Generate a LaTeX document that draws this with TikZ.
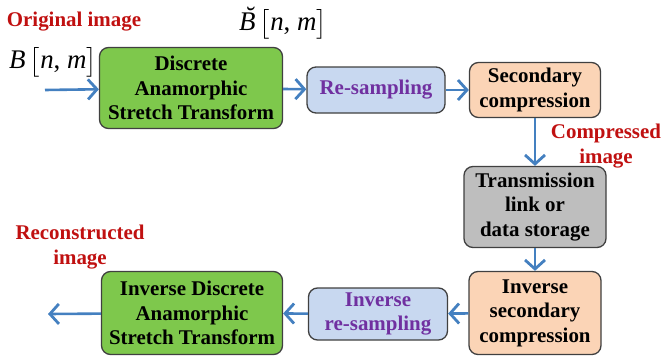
\documentclass[tikz,border=0pt]{standalone}
\usepackage{fontspec}
\setmainfont{Liberation Serif}
\usepackage{amsmath}
\usetikzlibrary{arrows.meta, positioning}
\definecolor{boxgreen}{RGB}{126,200,76}
\definecolor{boxblue}{RGB}{200,216,240}
\definecolor{boxorange}{RGB}{251,212,182}
\definecolor{boxgray}{RGB}{190,190,190}
\definecolor{flowblue}{RGB}{68,128,192}
\definecolor{labelred}{RGB}{192,16,16}
\definecolor{textpurple}{RGB}{112,48,160}

\begin{document}
\begin{tikzpicture}[x=1bp, y=1bp,
  block/.style={shape=rectangle, rounded corners=9bp, draw=black!75, line width=1.3bp, align=center, inner sep=1bp, font=\fontsize{21}{24.5}\selectfont\bfseries},
  flow/.style={draw=flowblue, line width=2.6bp, -{Straight Barb[length=9bp, width=20bp, line width=2.8bp]}},
  redlabel/.style={text=labelred, align=center, inner sep=1bp, font=\fontsize{21}{24.5}\selectfont\bfseries},
  signal/.style={inner sep=0bp, font=\fontsize{27}{28}\selectfont}]
\useasboundingbox (0,0) rectangle (669,361);
% forward chain
\node[block, fill=boxgreen, minimum width=183bp, minimum height=81bp] (dast) at (191,273) {Discrete\\Anamorphic\\Stretch Transform};
\node[block, fill=boxblue, minimum width=138bp, minimum height=46bp, text=textpurple] (resamp) at (376,271) {Re-sampling};
\node[block, fill=boxorange, minimum width=131bp, minimum height=55bp] (sec) at (535,271) {Secondary\\compression};
\node[block, fill=boxgray, minimum width=142bp, minimum height=81bp] (trans) at (535,154) {Transmission\\link or\\data storage};
% inverse chain
\node[block, fill=boxorange, minimum width=132bp, minimum height=83bp] (invsec) at (535,48) {Inverse\\secondary\\compression};
\node[block, fill=boxblue, minimum width=139bp, minimum height=52bp, text=textpurple] (invres) at (378,47) {Inverse\\re-sampling};
\node[block, fill=boxgreen, minimum width=181bp, minimum height=83bp] (invdast) at (192,48) {Inverse Discrete\\Anamorphic\\Stretch Transform};
% labels
\node[redlabel] (orig) at (74,339) {Original image};
\node[signal] (bin) at (53,299) {\textit{B}\,$\bigl[$\textit{n}, \textit{m}$\bigr]$};
\node[signal] (bout) at (283,338) {\textit{\accent"02D8 B}\,$\bigl[$\textit{n}, \textit{m}$\bigr]$};
\node[redlabel] (comp) at (606,215) {Compressed\\image};
\node[redlabel] (recon) at (80,114) {Reconstructed\\image};
\coordinate (in) at (45,271);
\coordinate (out) at (48,47);
% arrows
\draw[flow] (in) -- (dast);
\draw[flow] (dast) -- (resamp);
\draw[flow] (resamp) -- (sec);
\draw[flow] (sec) -- (trans);
\draw[flow] (trans) -- (invsec);
\draw[flow] (invsec) -- (invres);
\draw[flow] (invres) -- (invdast);
\draw[flow] (invdast) -- (out);
\end{tikzpicture}
\end{document}
